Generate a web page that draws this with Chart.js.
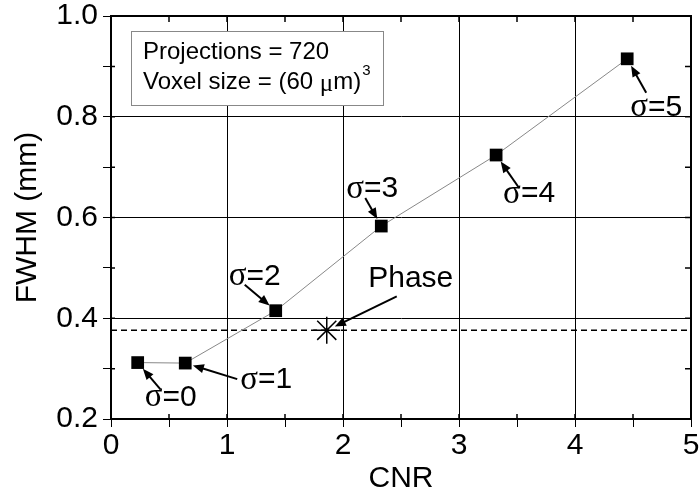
<!DOCTYPE html>
<html>
<head>
<meta charset="utf-8">
<script src="https://cdn.jsdelivr.net/npm/chart.js@4"></script>
<style>
  html, body { margin: 0; padding: 0; background: #fff; }
  #wrap { width: 700px; height: 497px; }
</style>
</head>
<body>
<div id="wrap"><canvas id="myChart" width="700" height="497"></canvas></div>
<script>
// values
const cnrValues = [0.23, 0.64, 1.42, 2.33, 3.32, 4.45];
const fwhmValues = [0.312, 0.311, 0.415, 0.583, 0.724, 0.915];
const sigmaLabels = ['σ=0', 'σ=1', 'σ=2', 'σ=3', 'σ=4', 'σ=5'];
const phaseCnr = 1.86;
const phaseFwhm = 0.376;
const xRange = [0, 5];
const yRange = [0.2, 1.0];
const boxLines = ['Projections = 720', 'Voxel size = (60 μm)'];

// where each label sits, in pixels from its point (text centre, arrow tail)
const labelOffsets = [
  { tx: 33, ty: 35, ax: 23, ay: 27 },
  { tx: 81, ty: 17, ax: 52, ay: 16 },
  { tx: -21, ty: -34, ax: -31, ay: -26 },
  { tx: -9, ty: -37, ax: -16, ay: -28 },
  { tx: 33, ty: 39, ax: 23, ay: 33 },
  { tx: 29, ty: 49, ax: 19, ay: 34 }
];
const phaseOffset = { tx: 84, ty: -52, ax: 70, ay: -34 };

const SANS = '"Liberation Sans", Arial, sans-serif';
const SERIF = '"Liberation Serif", "Times New Roman", serif';

function isMulti(v, step) {
  const r = v / step;
  return Math.abs(r - Math.round(r)) < 1e-6;
}

function arrow(ctx, x1, y1, x2, y2) {
  const ang = Math.atan2(y2 - y1, x2 - x1);
  const hl = 11, hw = 4.5;
  ctx.save();
  ctx.strokeStyle = '#000';
  ctx.fillStyle = '#000';
  ctx.lineWidth = 2;
  ctx.beginPath();
  ctx.moveTo(x1, y1);
  ctx.lineTo(x2 - Math.cos(ang) * hl * 0.8, y2 - Math.sin(ang) * hl * 0.8);
  ctx.stroke();
  ctx.beginPath();
  ctx.moveTo(x2, y2);
  ctx.lineTo(x2 - Math.cos(ang) * hl - Math.sin(ang) * hw, y2 - Math.sin(ang) * hl + Math.cos(ang) * hw);
  ctx.lineTo(x2 - Math.cos(ang) * hl + Math.sin(ang) * hw, y2 - Math.sin(ang) * hl - Math.cos(ang) * hw);
  ctx.closePath();
  ctx.fill();
  ctx.restore();
}

// draw a run of [text, font] pieces centred on cx
function drawPieces(ctx, pieces, cx, cy) {
  let w = 0;
  pieces.forEach(p => { ctx.font = p[1]; w += ctx.measureText(p[0]).width; });
  let x = cx - w / 2;
  pieces.forEach(p => {
    ctx.font = p[1];
    ctx.fillText(p[0], x, cy);
    x += ctx.measureText(p[0]).width;
  });
}

const extras = {
  id: 'extras',
  afterDraw(chart) {
    const ctx = chart.ctx;
    const a = chart.chartArea;
    const xs = chart.scales.x, ys = chart.scales.y;

    // frame + inward ticks on top and right
    ctx.save();
    ctx.strokeStyle = '#000';
    ctx.lineWidth = 2;
    ctx.strokeRect(a.left, a.top, a.right - a.left, a.bottom - a.top);
    ctx.lineWidth = 1.5;
    ctx.beginPath();
    for (let v = xRange[0]; v <= xRange[1] + 1e-9; v += 0.5) {
      const px = xs.getPixelForValue(v);
      ctx.moveTo(px, a.top); ctx.lineTo(px, a.top + 6);
      ctx.moveTo(px, a.bottom); ctx.lineTo(px, a.bottom - 5);
    }
    for (let v = yRange[0]; v <= yRange[1] + 1e-9; v += 0.1) {
      const py = ys.getPixelForValue(v);
      ctx.moveTo(a.right, py); ctx.lineTo(a.right - 6, py);
      ctx.moveTo(a.left, py); ctx.lineTo(a.left + 4, py);
    }
    ctx.stroke();
    ctx.restore();

    // info box
    ctx.save();
    const bx = a.left + 20, by = a.top + 15;
    ctx.fillStyle = '#fff';
    ctx.fillRect(bx, by, 252, 74);
    ctx.strokeStyle = '#888';
    ctx.lineWidth = 1;
    ctx.strokeRect(bx + 0.5, by + 0.5, 252, 74);
    ctx.fillStyle = '#000';
    ctx.textBaseline = 'middle';
    ctx.textAlign = 'left';
    ctx.font = '24px ' + SANS;
    ctx.fillText(boxLines[0], bx + 12, by + 21);
    const parts = boxLines[1].split('μ');
    let x = bx + 12;
    ctx.fillText(parts[0], x, by + 51);
    x += ctx.measureText(parts[0]).width;
    ctx.font = '25px ' + SERIF;
    ctx.fillText('μ', x, by + 53);
    x += ctx.measureText('μ').width;
    ctx.font = '24px ' + SANS;
    ctx.fillText(parts[1], x, by + 51);
    x += ctx.measureText(parts[1]).width;
    ctx.font = '15px ' + SANS;
    ctx.fillText('3', x + 1, by + 40);
    ctx.restore();

    // sigma labels with arrows
    ctx.save();
    ctx.fillStyle = '#000';
    ctx.textBaseline = 'middle';
    ctx.textAlign = 'left';
    cnrValues.forEach((c, i) => {
      const px = xs.getPixelForValue(c), py = ys.getPixelForValue(fwhmValues[i]);
      const o = labelOffsets[i];
      const lab = sigmaLabels[i];
      drawPieces(ctx, [[lab[0], '33px ' + SERIF], [lab.slice(1), '30px ' + SANS]], px + o.tx, py + o.ty);
      const d = Math.hypot(o.ax, o.ay);
      arrow(ctx, px + o.ax, py + o.ay, px + o.ax / d * 8, py + o.ay / d * 8);
    });
    const qx = xs.getPixelForValue(phaseCnr), qy = ys.getPixelForValue(phaseFwhm);
    drawPieces(ctx, [['Phase', '30px ' + SANS]], qx + phaseOffset.tx, qy + phaseOffset.ty);
    const d = Math.hypot(phaseOffset.ax, phaseOffset.ay);
    arrow(ctx, qx + phaseOffset.ax, qy + phaseOffset.ay, qx + phaseOffset.ax / d * 9, qy + phaseOffset.ay / d * 9);
    ctx.restore();
  }
};

new Chart('myChart', {
  type: 'scatter',
  data: {
    datasets: [{
      data: cnrValues.map((c, i) => ({ x: c, y: fwhmValues[i] })),
      showLine: true,
      borderColor: '#888',
      borderWidth: 1,
      pointStyle: 'rect',
      pointRadius: 9,
      pointBackgroundColor: '#000',
      pointBorderColor: '#000',
      pointBorderWidth: 0
    }, {
      data: [{ x: phaseCnr, y: phaseFwhm }],
      pointStyle: 'star',
      pointRadius: 13.5,
      pointBorderColor: '#000',
      pointBorderWidth: 1.5,
      pointBackgroundColor: '#000'
    }, {
      data: xRange.map(x => ({ x: x, y: phaseFwhm })),
      showLine: true,
      borderColor: '#000',
      borderWidth: 1.5,
      borderDash: [6, 4],
      pointRadius: 0
    }]
  },
  options: {
    responsive: false,
    animation: false,
    layout: { autoPadding: false, padding: { top: 16, right: 9, left: 0, bottom: 0 } },
    plugins: { legend: { display: false }, tooltip: { enabled: false } },
    scales: {
      x: {
        type: 'linear',
        min: xRange[0], max: xRange[1],
        afterFit: s => { s.height = 78; s.paddingLeft = 0; s.paddingRight = 0; },
        ticks: {
          stepSize: 0.5,
          color: '#000',
          font: { family: SANS, size: 30, lineHeight: 1 },
          padding: 4,
          maxRotation: 0,
          autoSkip: false,
          callback: v => isMulti(v, 1) ? String(v) : ''
        },
        grid: {
          color: c => isMulti(c.tick.value, 1) ? '#000' : 'rgba(0,0,0,0)',
          tickColor: '#000',
          tickLength: 8,
          lineWidth: 1
        },
        border: { color: '#000', width: 2 },
        title: {
          display: true, text: 'CNR', color: '#000',
          font: { family: SANS, size: 30 },
          padding: { top: 0, bottom: 0 }
        }
      },
      y: {
        type: 'linear',
        min: yRange[0], max: yRange[1],
        afterFit: s => { s.width = 111; s.paddingTop = 0; s.paddingBottom = 0; },
        ticks: {
          stepSize: 0.1,
          color: '#000',
          font: { family: SANS, size: 30, lineHeight: 1 },
          padding: 5,
          autoSkip: false,
          callback: v => isMulti(v, 0.2) ? v.toFixed(1) : ''
        },
        grid: {
          color: c => isMulti(c.tick.value, 0.2) ? '#000' : 'rgba(0,0,0,0)',
          tickColor: '#000',
          tickLength: 8,
          lineWidth: 1
        },
        border: { color: '#000', width: 2 },
        title: {
          display: true, text: 'FWHM (mm)', color: '#000',
          font: { family: SANS, size: 30 },
          padding: { top: 10, bottom: 0 }
        }
      }
    }
  },
  plugins: [extras]
});
</script>
</body>
</html>
